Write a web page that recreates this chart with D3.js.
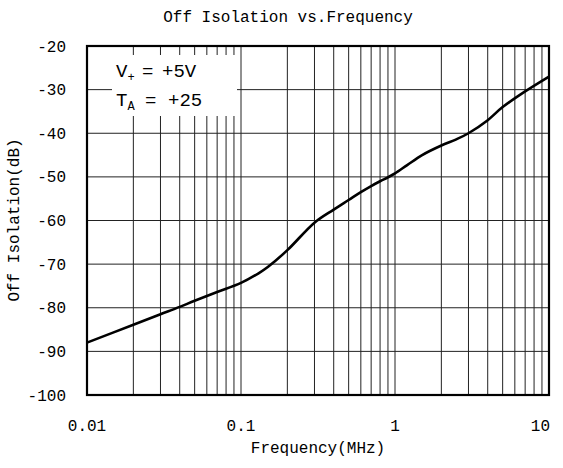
<!DOCTYPE html>
<html>
<head>
<meta charset="utf-8">
<script src="https://cdn.jsdelivr.net/npm/d3@7"></script>
<style>
  body { margin: 0; background: #fff; }
  text { font-family: "Liberation Mono", "DejaVu Sans Mono", monospace; fill: #000; }
</style>
</head>
<body>
<div id="chart"></div>
<script>
// Off isolation curve
const freqMHz = [0.01, 0.02, 0.03, 0.04, 0.05, 0.07, 0.1, 0.13, 0.15, 0.2, 0.3, 0.4, 0.5, 0.6, 0.7, 0.8, 0.9, 1, 1.2, 1.5, 2, 2.5, 3, 4, 5, 7, 10];
const isolationDb = [-88, -83.9, -81.5, -79.8, -78.4, -76.4, -74.3, -72.1, -70.6, -66.8, -60.5, -57.5, -55.3, -53.5, -52.1, -51, -50.1, -49.2, -47.3, -45, -42.8, -41.4, -40, -37, -34, -30.4, -27];

const xTickValues = [0.01, 0.1, 1, 10];
const xTickLabels = ['0.01', '0.1', '1', '10'];
const yTickValues = [-100, -90, -80, -70, -60, -50, -40, -30, -20];

const width = 563;
const height = 468;
const margin = { top: 46, right: 14, bottom: 73, left: 87 };

const svg = d3.select('#chart')
  .append('svg')
  .attr('width', width)
  .attr('height', height);

const x = d3.scaleLog()
  .domain([0.01, 10])
  .range([margin.left, width - margin.right]);

const y = d3.scaleLinear()
  .domain([-100, -20])
  .range([height - margin.bottom, margin.top]);

// minor + major log grid
const gridFreqs = [];
[0.01, 0.1, 1].forEach(dec => {
  for (let k = 1; k <= 9; k++) gridFreqs.push(dec * k);
});
gridFreqs.push(10);

svg.append('g')
  .selectAll('line')
  .data(gridFreqs)
  .join('line')
  .attr('x1', d => x(d))
  .attr('x2', d => x(d))
  .attr('y1', y(-20))
  .attr('y2', y(-100))
  .attr('stroke', '#222')
  .attr('stroke-width', 1);

svg.append('g')
  .selectAll('line')
  .data(yTickValues)
  .join('line')
  .attr('x1', x(0.01))
  .attr('x2', x(10))
  .attr('y1', d => y(d))
  .attr('y2', d => y(d))
  .attr('stroke', '#222')
  .attr('stroke-width', 1);

// white box behind the conditions note
svg.append('rect')
  .attr('x', 112)
  .attr('y', 55)
  .attr('width', 125)
  .attr('height', 61)
  .attr('fill', '#fff');

const note = svg.append('g')
  .style('font-family', '"Liberation Sans Narrow", "Liberation Sans", Arial, sans-serif')
  .style('font-size', '19px');

const l1 = note.append('text').attr('x', 116).attr('y', 77);
l1.append('tspan').text('V');
l1.append('tspan').attr('dy', 4).style('font-size', '12px').text('+');
l1.append('tspan').attr('dy', -4).attr('x', 142).text('=');
l1.append('tspan').attr('x', 162).text('+5V');

const l2 = note.append('text').attr('x', 116).attr('y', 106);
l2.append('tspan').text('T');
l2.append('tspan').attr('dy', 4).style('font-size', '12px').text('A');
l2.append('tspan').attr('dy', -4).attr('x', 145).text('=');
l2.append('tspan').attr('x', 168).text('+25');

// curve
const line = d3.line()
  .x((d, i) => x(freqMHz[i]))
  .y(d => y(d))
  .curve(d3.curveCatmullRom.alpha(0.5));

svg.append('path')
  .datum(isolationDb)
  .attr('d', line)
  .attr('fill', 'none')
  .attr('stroke', '#000')
  .attr('stroke-width', 2.6)
  .attr('stroke-linejoin', 'round');

// frame
svg.append('rect')
  .attr('x', x(0.01))
  .attr('y', y(-20))
  .attr('width', x(10) - x(0.01))
  .attr('height', y(-100) - y(-20))
  .attr('fill', 'none')
  .attr('stroke', '#000')
  .attr('stroke-width', 2.2);

// y tick labels
svg.append('g')
  .selectAll('text')
  .data(yTickValues)
  .join('text')
  .attr('x', 66)
  .attr('y', d => y(d))
  .attr('dy', '0.35em')
  .attr('text-anchor', 'end')
  .style('font-size', '16px')
  .text(d => d);

// x tick labels
svg.append('g')
  .selectAll('text')
  .data(xTickValues)
  .join('text')
  .attr('x', (d, i) => i === xTickValues.length - 1 ? x(d) + 1 : x(d))
  .attr('y', 431)
  .attr('text-anchor', (d, i) => i === xTickValues.length - 1 ? 'end' : 'middle')
  .style('font-size', '16px')
  .text((d, i) => xTickLabels[i]);

svg.append('text')
  .attr('x', 318)
  .attr('y', 453)
  .attr('text-anchor', 'middle')
  .style('font-size', '16px')
  .text('Frequency(MHz)');

svg.append('text')
  .attr('transform', 'translate(19,220) rotate(-90)')
  .attr('text-anchor', 'middle')
  .style('font-size', '16px')
  .text('Off Isolation(dB)');

svg.append('text')
  .attr('x', 288)
  .attr('y', 22)
  .attr('text-anchor', 'middle')
  .style('font-size', '16px')
  .text('Off Isolation vs.Frequency');
</script>
</body>
</html>
